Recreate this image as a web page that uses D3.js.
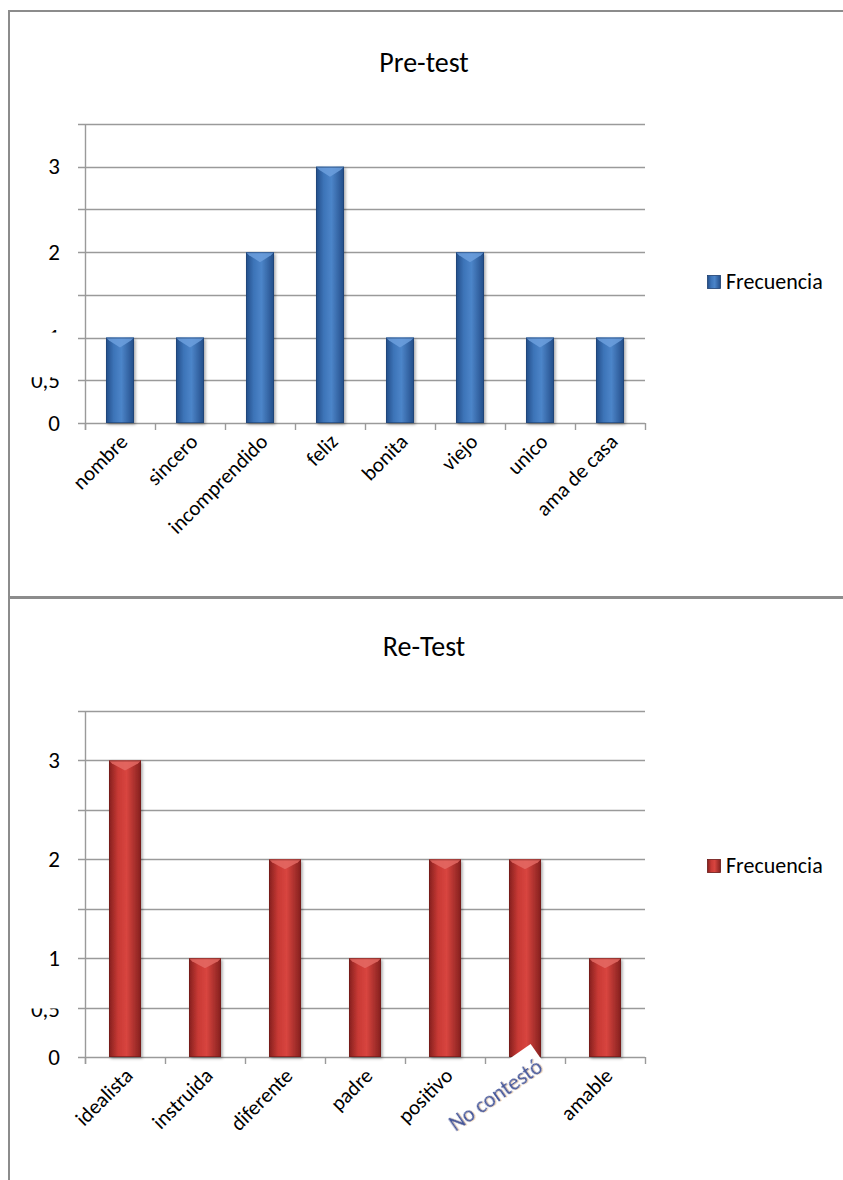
<!DOCTYPE html>
<html>
<head>
<meta charset="utf-8">
<script src="https://cdn.jsdelivr.net/npm/d3@7"></script>
<style>
  html, body { margin: 0; padding: 0; background: #fff; }
  svg { display: block; }
  text { font-family: Carlito, Lato, "Noto Sans", sans-serif; fill: #000; }
</style>
</head>
<body>
<svg id="chart" width="843" height="1180"></svg>
<script>
// Pre-test word frequencies
const preCategories = ["nombre", "sincero", "incomprendido", "feliz", "bonita", "viejo", "unico", "ama de casa"];
const preValues = [1, 1, 2, 3, 1, 2, 1, 1];

// Re-Test word frequencies
const reCategories = ["idealista", "instruida", "diferente", "padre", "positivo", "No contestó", "amable"];
const reValues = [3, 1, 2, 1, 2, 2, 1];

// Value axis
const gridValues = [0, 0.5, 1, 1.5, 2, 2.5, 3, 3.5];
const tickValues = [0, 0.5, 1, 2, 3];
const tickLabels = ["0", "0,5", "1", "2", "3"];
const seriesName = "Frecuencia";

const svg = d3.select("#chart");
const defs = svg.append("defs");

function barGradient(id, edge, mid, light) {
  const g = defs.append("linearGradient").attr("id", id)
    .attr("x1", "0").attr("x2", "1").attr("y1", "0").attr("y2", "0");
  g.append("stop").attr("offset", "0%").attr("stop-color", edge);
  g.append("stop").attr("offset", "28%").attr("stop-color", mid);
  g.append("stop").attr("offset", "55%").attr("stop-color", light);
  g.append("stop").attr("offset", "100%").attr("stop-color", edge);
}
barGradient("gBlue", "#234d88", "#3d74b8", "#4c85c9");
barGradient("gRed", "#84201e", "#c83935", "#d8453f");

const shadow = defs.append("filter").attr("id", "shadow")
  .attr("x", "-30%").attr("y", "-10%").attr("width", "160%").attr("height", "130%");
shadow.append("feDropShadow").attr("dx", 1.5).attr("dy", 1.5)
  .attr("stdDeviation", 1.5).attr("flood-color", "#000").attr("flood-opacity", 0.35);

const soft = defs.append("filter").attr("id", "soft");
soft.append("feGaussianBlur").attr("stdDeviation", 0.45);

// Page frame
const frameColor = "#8c8c8c";
svg.append("line").attr("x1", 9).attr("x2", 9).attr("y1", 10).attr("y2", 1180)
  .attr("stroke", frameColor).attr("stroke-width", 2);
svg.append("line").attr("x1", 8).attr("x2", 843).attr("y1", 11).attr("y2", 11)
  .attr("stroke", frameColor).attr("stroke-width", 2);
svg.append("line").attr("x1", 8).attr("x2", 843).attr("y1", 597.5).attr("y2", 597.5)
  .attr("stroke", frameColor).attr("stroke-width", 3);

function drawChart(cfg) {
  const g = svg.append("g");
  const x = d3.scaleBand().domain(cfg.categories)
    .range([85, 645]).paddingInner(0.6).paddingOuter(0.3);
  const y = d3.scaleLinear().domain([0, 3.5]).range([cfg.bottom, cfg.top]);

  // title
  g.append("text").attr("x", 424).attr("y", cfg.titleY)
    .attr("text-anchor", "middle").attr("font-size", 28).text(cfg.title);

  // gridlines with left tick marks
  g.selectAll(".grid").data(gridValues).join("line")
    .attr("x1", 78).attr("x2", 645)
    .attr("y1", d => Math.round(y(d)) + 0.5).attr("y2", d => Math.round(y(d)) + 0.5)
    .attr("stroke", "#9a9a9a").attr("stroke-width", 1.4);

  // value axis line
  g.append("line").attr("x1", 85.5).attr("x2", 85.5)
    .attr("y1", y(3.5)).attr("y2", y(0) + 7)
    .attr("stroke", "#9a9a9a").attr("stroke-width", 1.4);

  // category tick marks at band edges
  const step = x.step();
  const edges = d3.range(cfg.categories.length + 1).map(i => 85 + i * step);
  g.selectAll(".xtick").data(edges).join("line")
    .attr("x1", d => Math.round(d) + 0.5).attr("x2", d => Math.round(d) + 0.5)
    .attr("y1", y(0)).attr("y2", y(0) + 7)
    .attr("stroke", "#9a9a9a").attr("stroke-width", 1.4);

  // value tick labels, some partly hidden
  tickValues.forEach((v, i) => {
    const id = cfg.id + "clip" + i;
    const cut = cfg.clip[i];
    if (cut != null) {
      const top = cut.from != null ? y(v) + cut.from : 0;
      const bot = cut.to != null ? y(v) + cut.to : 1180;
      defs.append("clipPath").attr("id", id).append("rect")
        .attr("x", 0).attr("width", 80).attr("y", top).attr("height", bot - top);
    }
    g.append("text").attr("x", 60).attr("y", y(v) + (cut && cut.shift ? cut.shift : 0))
      .attr("dy", "0.33em").attr("text-anchor", "end").attr("font-size", 23)
      .attr("clip-path", cut != null ? `url(#${id})` : null)
      .text(tickLabels[i]);
  });

  // bars
  const bars = g.selectAll(".bar").data(cfg.values).join("g");
  bars.append("rect")
    .attr("x", (d, i) => x(cfg.categories[i]))
    .attr("y", d => y(d))
    .attr("width", x.bandwidth())
    .attr("height", d => y(0) - y(d))
    .attr("fill", `url(#${cfg.grad})`)
    .attr("filter", "url(#shadow)");
  // bevelled top
  bars.append("path")
    .attr("d", (d, i) => {
      const x0 = x(cfg.categories[i]), w = x.bandwidth(), t = y(d);
      return `M${x0},${t}L${x0 + w},${t}L${x0 + w - 3},${t + 3}L${x0 + w / 2},${t + 10}L${x0 + 3},${t + 3}Z`;
    })
    .attr("fill", cfg.bevel).attr("opacity", 0.85);
  // dark outline on the sides
  bars.append("rect")
    .attr("x", (d, i) => x(cfg.categories[i]) + 0.5)
    .attr("y", d => y(d) + 0.5)
    .attr("width", x.bandwidth() - 1)
    .attr("height", d => y(0) - y(d) - 1)
    .attr("fill", "none").attr("stroke", cfg.outline).attr("stroke-width", 1).attr("opacity", 0.6);

  // category labels
  g.selectAll(".xlab").data(cfg.categories).join("text")
    .attr("transform", d => `translate(${x(d) + x.bandwidth() / 2 + 9},${y(0) + 20}) rotate(-45)`)
    .attr("text-anchor", "end").attr("font-size", 21)
    .attr("visibility", d => cfg.special && d === cfg.special ? "hidden" : null)
    .text(d => d);

  // pasted-over label on a white patch
  if (cfg.special) {
    const cx = x(cfg.special) + x.bandwidth() / 2;
    const lg = g.append("g")
      .attr("transform", `translate(${cx + 19},${y(0) + 13}) rotate(-35)`);
    const patch = lg.append("rect").attr("fill", "#fff");
    lg.append("text").attr("text-anchor", "end").attr("font-size", 22)
      .attr("x", 1).attr("y", 1)
      .style("fill", "#e0a86a").attr("opacity", 0.45).attr("filter", "url(#soft)")
      .text(cfg.special);
    const t = lg.append("text").attr("text-anchor", "end").attr("font-size", 22)
      .attr("x", 0).attr("y", 0)
      .style("fill", "#42549a").attr("filter", "url(#soft)")
      .text(cfg.special);
    const tl = t.node().getComputedTextLength();
    patch.attr("x", -tl - 8).attr("y", -29).attr("width", tl + 12).attr("height", 37);
  }

  // legend
  const ly = cfg.legendY;
  g.append("rect").attr("x", 707.5).attr("y", ly - 6.5).attr("width", 13).attr("height", 13)
    .attr("fill", `url(#${cfg.grad})`).attr("stroke", cfg.outline).attr("stroke-width", 0.8);
  g.append("text").attr("x", 726).attr("y", ly).attr("dy", "0.34em")
    .attr("font-size", 22).text(seriesName);
}

drawChart({
  id: "pre", title: "Pre-test", titleY: 72,
  categories: preCategories, values: preValues,
  top: 124, bottom: 423, legendY: 282,
  grad: "gBlue", bevel: "#6c9fdd", outline: "#1d3f70",
  clip: [null, { from: -3 }, { to: -5 }, null, null]
});

drawChart({
  id: "re", title: "Re-Test", titleY: 656,
  categories: reCategories, values: reValues,
  top: 711, bottom: 1057, legendY: 866,
  grad: "gRed", bevel: "#e46a64", outline: "#6a1816",
  clip: [null, { from: 1, shift: 2 }, null, null, null],
  special: "No contestó"
});
</script>
</body>
</html>
